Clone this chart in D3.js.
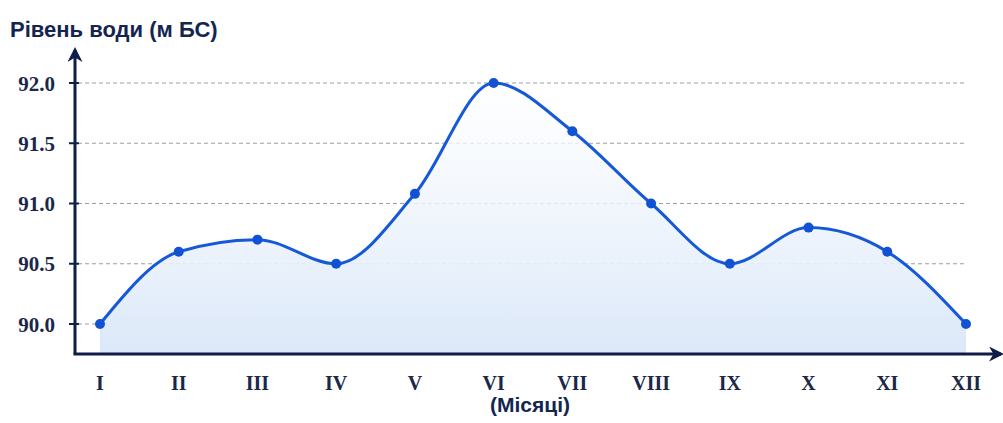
<!DOCTYPE html>
<html><head><meta charset="utf-8">
<script src="https://cdn.jsdelivr.net/npm/d3@7"></script>
<style>body{margin:0;background:#fff}svg{display:block}</style>
</head><body>
<svg id="c" width="1003" height="423"></svg>
<script>
const months = ["I","II","III","IV","V","VI","VII","VIII","IX","X","XI","XII"];
const levels = [90.0, 90.6, 90.7, 90.5, 91.08, 92.0, 91.6, 91.0, 90.5, 90.8, 90.6, 90.0];
const yTicks = [90.0, 90.5, 91.0, 91.5, 92.0];
const yTitle = "Рівень води (м БС)";
const xTitle = "(Місяці)";

const svg = d3.select("#c");
const axisX0 = 75, axisY0 = 354;
const x = d3.scalePoint().domain(months).range([100, 966]);
const y = d3.scaleLinear().domain([90, 92]).range([324, 83]);

const defs = svg.append("defs");
const g = defs.append("linearGradient").attr("id","fill").attr("x1",0).attr("y1",0).attr("x2",0).attr("y2",1);
g.append("stop").attr("offset","0%").attr("stop-color","#ffffff").attr("stop-opacity",0.7);
g.append("stop").attr("offset","100%").attr("stop-color","#dbe8f9").attr("stop-opacity",1);
defs.append("marker").attr("id","arr").attr("viewBox","0 0 10 10").attr("refX",8).attr("refY",5)
  .attr("markerWidth",5).attr("markerHeight",5).attr("orient","auto-start-reverse")
  .append("path").attr("d","M0,0 L10,5 L0,10 L3,5 Z").attr("fill","#0f1d48");

// grid
svg.append("g").selectAll("line").data(yTicks).join("line")
  .attr("x1",78).attr("x2",966).attr("y1",d=>y(d)).attr("y2",d=>y(d))
  .attr("stroke","#9a9ea8").attr("stroke-width",1).attr("stroke-dasharray","4,3");

const data = months.map((m,i)=>({m, v: levels[i]}));
const area = d3.area().x(d=>x(d.m)).y0(axisY0).y1(d=>y(d.v)).curve(d3.curveMonotoneX);
svg.append("path").datum(data).attr("d",area).attr("fill","url(#fill)");

// y ticks
svg.append("g").selectAll("line").data(yTicks).join("line")
  .attr("x1",69).attr("x2",79).attr("y1",d=>y(d)).attr("y2",d=>y(d))
  .attr("stroke","#0f1d48").attr("stroke-width",2);
svg.append("g").selectAll("text").data(yTicks).join("text")
  .attr("x",55).attr("y",d=>y(d)+7.5).attr("text-anchor","end")
  .attr("font-family","Liberation Serif, serif").attr("font-weight","bold").attr("font-size",21)
  .attr("fill","#1c2748").text(d=>d.toFixed(1));

// axes
svg.append("line").attr("x1",axisX0).attr("y1",axisY0).attr("x2",axisX0).attr("y2",50)
  .attr("stroke","#0f1d48").attr("stroke-width",3).attr("marker-end","url(#arr)");
svg.append("line").attr("x1",axisX0-1.5).attr("y1",axisY0).attr("x2",1001).attr("y2",axisY0)
  .attr("stroke","#0f1d48").attr("stroke-width",3).attr("marker-end","url(#arr)");

const line = d3.line().x(d=>x(d.m)).y(d=>y(d.v)).curve(d3.curveMonotoneX);
svg.append("path").datum(data).attr("d",line).attr("fill","none")
  .attr("stroke","#1659d8").attr("stroke-width",3);
svg.append("g").selectAll("circle").data(data).join("circle")
  .attr("cx",d=>x(d.m)).attr("cy",d=>y(d.v)).attr("r",5).attr("fill","#1152d4");

// x labels
svg.append("g").selectAll("text").data(months).join("text")
  .attr("x",d=>x(d)).attr("y",390).attr("text-anchor","middle")
  .attr("font-family","Liberation Serif, serif").attr("font-weight","bold").attr("font-size",20)
  .attr("fill","#1c2748").text(d=>d);

svg.append("text").attr("x",10).attr("y",37)
  .attr("font-family","Liberation Sans, Arial, sans-serif").attr("font-weight","bold").attr("font-size",22)
  .attr("fill","#14254f").text(yTitle);
svg.append("text").attr("x",530).attr("y",412).attr("text-anchor","middle")
  .attr("font-family","Liberation Sans, Arial, sans-serif").attr("font-weight","bold").attr("font-size",21)
  .attr("fill","#14254f").text(xTitle);
</script>
</body></html>
